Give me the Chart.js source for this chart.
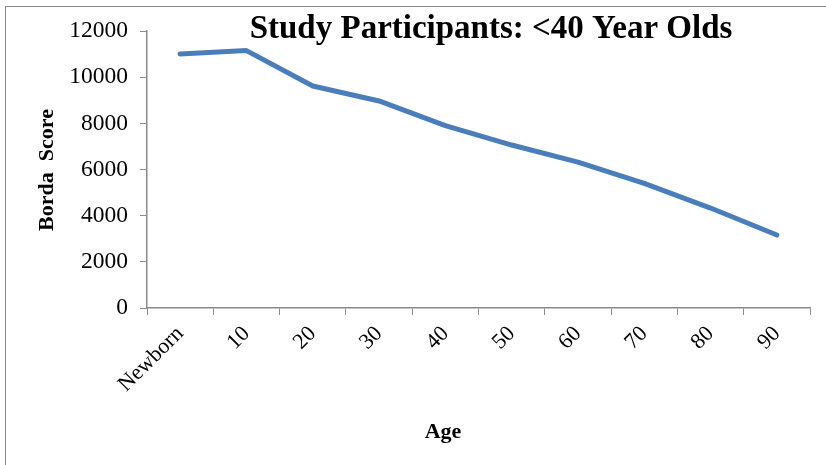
<!DOCTYPE html>
<html lang="en">

<head>
    <meta charset="UTF-8">
    <script src="https://cdn.jsdelivr.net/npm/chart.js"></script>
    <title>Study Participants</title>
    <style>
        body { margin: 0; background: #fff; }
        .moldura {
            position: absolute; left: 5px; top: 6px;
            width: 830px; height: 470px;
            border: 1px solid #8a8a8a;
        }
        #grafico { position: absolute; left: 0; top: 0; }
    </style>
</head>

<body>
    <div class="moldura"></div>
    <canvas id="grafico" width="826" height="465"></canvas>

<script>
    // dados do grafico
    var idades = ['Newborn', '10', '20', '30', '40', '50', '60', '70', '80', '90'];
    var pontuacao = [11000, 11150, 9620, 8970, 7900, 7060, 6320, 5400, 4330, 3160];
    var marcasY = [0, 2000, 4000, 6000, 8000, 10000, 12000];

    var fonte = '"Liberation Serif", "Times New Roman", serif';
    var cinza = '#8a8a8a';

    // titulo e nomes dos eixos desenhados por cima
    const textos = {
        id: 'textos',
        afterDraw(chart) {
            const ctx = chart.ctx;
            ctx.save();
            ctx.fillStyle = '#000';
            ctx.textAlign = 'center';
            ctx.textBaseline = 'middle';

            ctx.font = 'bold 33px ' + fonte;
            ctx.fillText('Study Participants: <40 Year Olds', 491, 29);

            ctx.font = 'bold 22px ' + fonte;
            ctx.fillText('Age', 443, 432);

            ctx.translate(47, 170);
            ctx.rotate(-Math.PI / 2);
            ctx.fillText('Borda  Score', 0, 0);
            ctx.restore();
        }
    };

    const config = {
        type: 'line',
        data: {
            labels: idades,
            datasets: [{
                label: 'Borda Score',
                data: pontuacao,
                borderColor: '#4a7ebb',
                backgroundColor: '#4a7ebb',
                borderWidth: 5,
                borderCapStyle: 'round',
                borderJoinStyle: 'round',
                pointRadius: 0,
                tension: 0,
                fill: false
            }]
        },
        options: {
            responsive: false,
            animation: false,
            layout: { padding: { left: 0, top: 31, right: 16, bottom: 0 } },
            plugins: {
                legend: { display: false },
                tooltip: { enabled: false }
            },
            scales: {
                x: {
                    offset: true,
                    grid: {
                        offset: true,
                        drawOnChartArea: false,
                        drawTicks: true,
                        tickLength: 7,
                        color: cinza
                    },
                    border: { color: cinza, width: 1.5 },
                    ticks: {
                        color: '#000',
                        font: { family: fonte, size: 22 },
                        minRotation: 45,
                        maxRotation: 45,
                        padding: 6
                    },
                    afterFit(scale) { scale.height = 157; }
                },
                y: {
                    min: 0,
                    max: 12000,
                    afterBuildTicks(scale) {
                        scale.ticks = marcasY.map(v => ({ value: v }));
                    },
                    grid: {
                        drawOnChartArea: false,
                        drawTicks: true,
                        tickLength: 7,
                        color: cinza
                    },
                    border: { color: cinza, width: 1.5 },
                    ticks: {
                        color: '#000',
                        font: { family: fonte, size: 23.5 },
                        padding: 12,
                        callback: (v) => String(v)
                    },
                    afterFit(scale) { scale.width = 147; }
                }
            }
        },
        plugins: [textos]
    };

    let meuGrafico = new Chart(document.getElementById('grafico'), config);
</script>
</body>

</html>
